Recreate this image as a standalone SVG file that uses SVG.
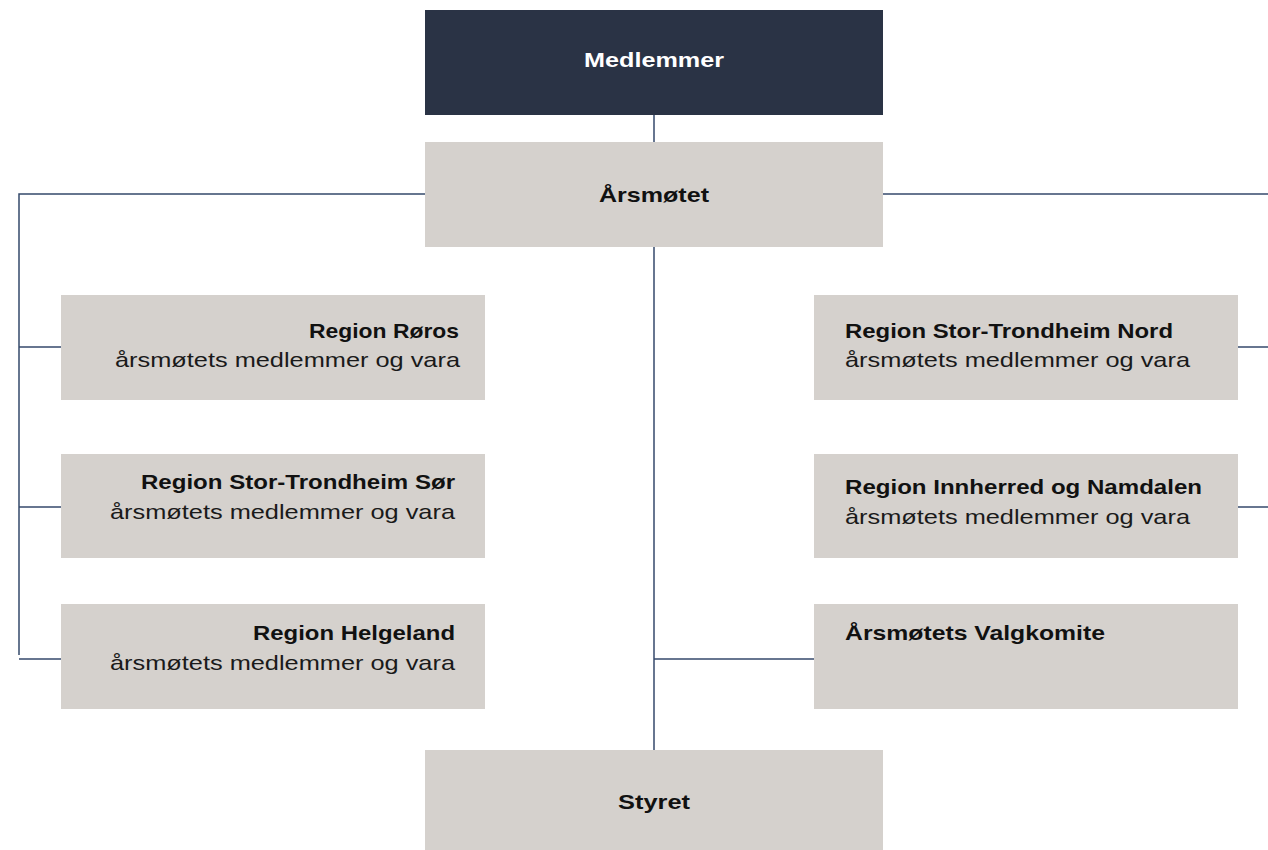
<svg xmlns="http://www.w3.org/2000/svg" width="1268" height="850" viewBox="0 0 1268 850">
<style>
.box{fill:#d5d1cd}
.dark{fill:#2a3345}
.t{font-family:"Liberation Sans",Arial,sans-serif;font-size:21px;font-weight:700;fill:#111}
.s{font-family:"Liberation Sans",Arial,sans-serif;font-size:21px;fill:#1a1a1a}
.w{fill:#fff}
.c{fill:none;stroke:#34496b;stroke-width:1.5}
</style>
<rect width="1268" height="850" fill="#fff"/>
<g id="connectors" class="c">
<line x1="654" y1="115" x2="654" y2="142"/>
<line x1="654" y1="247" x2="654" y2="750"/>
<line x1="654" y1="659" x2="814" y2="659"/>
<polyline points="425,194 19,194 19,655"/>
<line x1="19" y1="347" x2="61" y2="347"/>
<line x1="19" y1="507" x2="61" y2="507"/>
<line x1="19" y1="659" x2="61" y2="659"/>
<line x1="883" y1="194" x2="1268" y2="194"/>
<line x1="1238" y1="347" x2="1268" y2="347"/>
<line x1="1238" y1="507" x2="1268" y2="507"/>
</g>
<g id="medlemmer">
<rect class="dark" x="425" y="10" width="458" height="105"/>
<text class="t w" x="584" y="67" textLength="140" lengthAdjust="spacingAndGlyphs">Medlemmer</text>
</g>
<g id="arsmotet">
<rect class="box" x="425" y="142" width="458" height="105"/>
<text class="t" x="599" y="202" textLength="110" lengthAdjust="spacingAndGlyphs">Årsmøtet</text>
</g>
<g id="roros">
<rect class="box" x="61" y="295" width="424" height="105"/>
<text class="t" x="309" y="338" textLength="150" lengthAdjust="spacingAndGlyphs">Region Røros</text>
<text class="s" x="115" y="367" textLength="345" lengthAdjust="spacingAndGlyphs">årsmøtets medlemmer og vara</text>
</g>
<g id="stsor">
<rect class="box" x="61" y="454" width="424" height="104"/>
<text class="t" x="141" y="489" textLength="314" lengthAdjust="spacingAndGlyphs">Region Stor-Trondheim Sør</text>
<text class="s" x="110" y="519" textLength="345" lengthAdjust="spacingAndGlyphs">årsmøtets medlemmer og vara</text>
</g>
<g id="helgeland">
<rect class="box" x="61" y="604" width="424" height="105"/>
<text class="t" x="253" y="640" textLength="202" lengthAdjust="spacingAndGlyphs">Region Helgeland</text>
<text class="s" x="110" y="670" textLength="345" lengthAdjust="spacingAndGlyphs">årsmøtets medlemmer og vara</text>
</g>
<g id="stnord">
<rect class="box" x="814" y="295" width="424" height="105"/>
<text class="t" x="845" y="338" textLength="328" lengthAdjust="spacingAndGlyphs">Region Stor-Trondheim Nord</text>
<text class="s" x="845" y="367" textLength="345" lengthAdjust="spacingAndGlyphs">årsmøtets medlemmer og vara</text>
</g>
<g id="innherred">
<rect class="box" x="814" y="454" width="424" height="104"/>
<text class="t" x="845" y="494" textLength="357" lengthAdjust="spacingAndGlyphs">Region Innherred og Namdalen</text>
<text class="s" x="845" y="524" textLength="345" lengthAdjust="spacingAndGlyphs">årsmøtets medlemmer og vara</text>
</g>
<g id="valgkomite">
<rect class="box" x="814" y="604" width="424" height="105"/>
<text class="t" x="845" y="640" textLength="260" lengthAdjust="spacingAndGlyphs">Årsmøtets Valgkomite</text>
</g>
<g id="styret">
<rect class="box" x="425" y="750" width="458" height="100"/>
<text class="t" x="618" y="809" textLength="72" lengthAdjust="spacingAndGlyphs">Styret</text>
</g>
</svg>
